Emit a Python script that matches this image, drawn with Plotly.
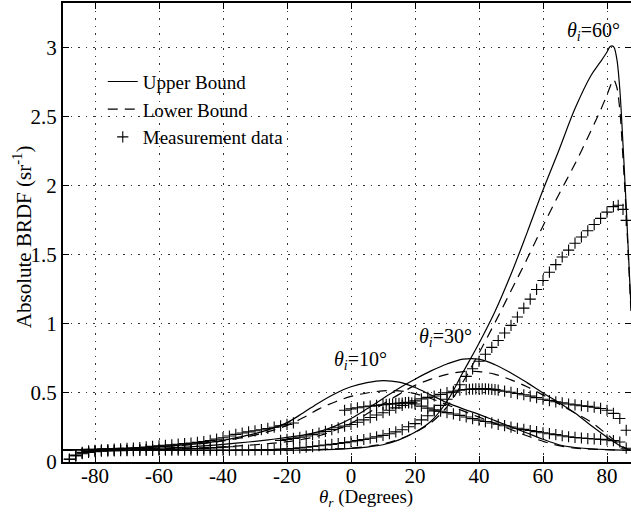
import plotly.graph_objects as go

# ---------------- data ----------------
bound_x = [-90, -85, -80, -75, -70, -65, -60, -55, -50, -45, -40, -35, -30, -25, -20, -15, -10, -5,
           0, 5, 10, 15, 20, 25, 30, 35, 40, 45, 50, 55, 60, 65, 70, 75, 80, 85, 87.5]

upper_10 = [0.085, 0.09, 0.093, 0.097, 0.10, 0.105, 0.111, 0.118, 0.127, 0.14, 0.157, 0.18, 0.205,
            0.24, 0.285, 0.355, 0.43, 0.495, 0.545, 0.575, 0.59, 0.578, 0.54, 0.485, 0.43, 0.385,
            0.345, 0.30, 0.255, 0.21, 0.165, 0.125, 0.105, 0.096, 0.09, 0.086, 0.085]
lower_10 = [0.085, 0.09, 0.093, 0.097, 0.10, 0.105, 0.11, 0.117, 0.125, 0.137, 0.152, 0.172, 0.195,
            0.225, 0.265, 0.32, 0.385, 0.435, 0.475, 0.50, 0.515, 0.515, 0.495, 0.46, 0.415, 0.37,
            0.325, 0.28, 0.235, 0.19, 0.15, 0.118, 0.10, 0.093, 0.089, 0.086, 0.085]
upper_30 = [0.085, 0.088, 0.09, 0.092, 0.095, 0.097, 0.10, 0.105, 0.11, 0.118, 0.127, 0.138, 0.15,
            0.163, 0.178, 0.195, 0.22, 0.26, 0.315, 0.385, 0.46, 0.535, 0.60, 0.66, 0.71, 0.745,
            0.745, 0.705, 0.645, 0.575, 0.50, 0.43, 0.355, 0.265, 0.18, 0.105, 0.085]
lower_30 = [0.085, 0.087, 0.088, 0.09, 0.091, 0.093, 0.095, 0.098, 0.10, 0.105, 0.11, 0.117, 0.125,
            0.135, 0.147, 0.165, 0.19, 0.23, 0.28, 0.35, 0.42, 0.49, 0.555, 0.60, 0.635, 0.655,
            0.655, 0.635, 0.595, 0.545, 0.485, 0.42, 0.355, 0.29, 0.20, 0.11, 0.085]

bound_x_60 = [-90, -80, -70, -60, -50, -40, -30, -20, -10, -5, 0, 5, 10, 15, 20, 25, 30, 35, 40, 45,
              50, 55, 60, 65, 70, 75, 78, 80, 81, 82, 83, 84, 85, 86, 87.5]
upper_60 = [0.09, 0.088, 0.087, 0.086, 0.085, 0.084, 0.084, 0.085, 0.088, 0.092, 0.098, 0.108, 0.125,
            0.16, 0.215, 0.295, 0.44, 0.65, 0.86, 1.09, 1.36, 1.66, 1.97, 2.26, 2.56, 2.80, 2.90,
            2.97, 3.01, 3.01, 2.93, 2.70, 2.30, 1.85, 1.12]
lower_60 = [0.09, 0.088, 0.087, 0.086, 0.085, 0.084, 0.084, 0.085, 0.09, 0.095, 0.10, 0.112, 0.13,
            0.165, 0.215, 0.285, 0.40, 0.58, 0.79, 1.01, 1.24, 1.47, 1.71, 1.94, 2.16, 2.40, 2.55,
            2.66, 2.72, 2.77, 2.72, 2.55, 2.20, 1.80, 1.08]

meas_x_10 = [-88, -86, -84, -82, -80, -78, -76, -74, -72, -70, -68, -66, -64, -62, -60, -58, -56, -54,
             -52, -50, -48, -46, -44, -42, -40, -38, -36, -34, -32, -30, -28, -26, -24, -22, -20, -18,
             -2, 0, 2, 4, 6, 8, 10, 11, 12, 13, 14, 15, 16, 17, 18, 19, 20, 22, 24, 26, 28, 30, 32, 34,
             36, 38, 40, 42, 44, 46, 48, 50, 52, 54, 56, 58, 60, 62, 64, 66, 68, 70, 72, 74, 76, 78,
             80, 82, 84, 86]
meas_10 = [0.02, 0.05, 0.07, 0.08, 0.085, 0.088, 0.09, 0.093, 0.095, 0.098, 0.101, 0.105, 0.109,
           0.113, 0.117, 0.121, 0.125, 0.129, 0.133, 0.137, 0.142, 0.148, 0.156, 0.166, 0.176, 0.188,
           0.2, 0.21, 0.218, 0.226, 0.234, 0.243, 0.252, 0.262, 0.272, 0.283,
           0.375, 0.385, 0.393, 0.40, 0.405, 0.41, 0.415, 0.418, 0.42, 0.422, 0.424, 0.425, 0.427,
           0.43, 0.432, 0.428, 0.42, 0.405, 0.39, 0.378, 0.368, 0.358, 0.348, 0.338, 0.326, 0.314,
           0.303, 0.293, 0.283, 0.273, 0.263, 0.253, 0.244, 0.236, 0.228, 0.22, 0.212, 0.205, 0.198,
           0.19, 0.183, 0.178, 0.174, 0.17, 0.167, 0.164, 0.16, 0.155, 0.145, 0.10]

meas_x_30 = [-88, -86, -84, -82, -80, -78, -76, -74, -72, -70, -68, -66, -64, -62, -60, -58, -56, -54,
             -52, -50, -48, -46, -44, -42, -40, -38,
             -22, -20, -18, -16, -14, -12, -10, -8, -6, -4, -2, 0, 2, 4, 6, 8, 10, 12, 14, 16, 18, 20,
             22, 24, 26, 28, 30, 32, 34, 36, 37, 38, 39, 40, 41, 42, 43, 44, 45, 46, 48, 50, 52, 54,
             56, 58, 60, 62, 64, 66, 68, 70, 72, 74, 76, 78, 80, 82, 84, 86]
meas_30 = [0.02, 0.045, 0.065, 0.075, 0.08, 0.082, 0.083, 0.084, 0.085, 0.086, 0.087, 0.088, 0.089,
           0.09, 0.091, 0.092, 0.093, 0.094, 0.095, 0.096, 0.097, 0.099, 0.101, 0.104, 0.107, 0.11,
           0.157, 0.164, 0.171, 0.179, 0.188, 0.198, 0.21, 0.222, 0.235, 0.248, 0.26, 0.272, 0.288,
           0.305, 0.322, 0.34, 0.357, 0.375, 0.392, 0.41, 0.428, 0.443, 0.457, 0.468, 0.478, 0.49,
           0.502, 0.512, 0.52, 0.525, 0.527, 0.528, 0.529, 0.53, 0.53, 0.53, 0.528, 0.526, 0.524,
           0.52, 0.513, 0.505, 0.496, 0.487, 0.477, 0.466, 0.455, 0.445, 0.436, 0.428, 0.42, 0.414,
           0.408, 0.403, 0.397, 0.388, 0.375, 0.352, 0.315, 0.23]

meas_x_60 = [-88, -86, -84, -82, -80, -78, -76, -74, -72, -70, -68, -66, -64, -62, -60, -58, -56, -54,
             -52, -50, -48, -46, -44, -42, -40, -38, -36, -34, -32, -30, -28, -26, -24, -22, -20, -18,
             -16, -14, -12, -10, -8, -6, -4, -2, 0, 2, 4, 6, 8, 10, 12, 14, 16, 18, 20, 22, 24, 26,
             28, 30, 32, 34, 36, 38, 40, 42, 44, 46, 48, 50, 52, 54, 56, 58, 60, 62, 64, 66, 68, 70,
             72, 74, 76, 78, 80, 82, 83.5, 85, 86]
meas_60 = [0.02, 0.045, 0.06, 0.07, 0.075, 0.078, 0.08, 0.081, 0.082, 0.083, 0.083, 0.084, 0.084,
           0.084, 0.085, 0.085, 0.085, 0.085, 0.085, 0.085, 0.085, 0.085, 0.085, 0.085, 0.085, 0.085,
           0.086, 0.086, 0.087, 0.088, 0.089, 0.09, 0.091, 0.093, 0.095, 0.098, 0.102, 0.107, 0.112,
           0.118, 0.123, 0.128, 0.134, 0.14, 0.147, 0.155, 0.163, 0.172, 0.182, 0.193, 0.205, 0.218,
           0.234, 0.255, 0.278, 0.305, 0.335, 0.37, 0.41, 0.455, 0.505, 0.56, 0.62, 0.675, 0.73,
           0.78, 0.83, 0.88, 0.935, 0.99, 1.05, 1.115, 1.18, 1.25, 1.315, 1.375, 1.43, 1.485, 1.535,
           1.585, 1.63, 1.675, 1.72, 1.765, 1.81, 1.85, 1.86, 1.83, 1.75]

x_tick_vals = [-80, -60, -40, -20, 0, 20, 40, 60, 80]
x_tick_text = ["-80", "-60", "-40", "-20", "0", "20", "40", "60", "80"]
y_tick_vals = [0, 0.5, 1, 1.5, 2, 2.5, 3]
y_tick_text = ["0", "0.5", "1", "1.5", "2", "2.5", "3"]

labels = [("<i>θ</i><sub><i>i</i></sub>=10°", 3.0, 0.735),
          ("<i>θ</i><sub><i>i</i></sub>=30°", 29.5, 0.905),
          ("<i>θ</i><sub><i>i</i></sub>=60°", 75.8, 3.115)]

# ---------------- figure ----------------
FONT = "Liberation Serif, Times New Roman, serif"
fig = go.Figure()

line_solid = dict(color="black", width=1.2)
line_dash = dict(color="black", width=1.2, dash="10px,7px")
marker = dict(symbol="cross-thin", size=8, line=dict(color="black", width=1.1), color="black")

for i, (ux, uy) in enumerate([(bound_x, upper_10), (bound_x, upper_30), (bound_x_60, upper_60)]):
    fig.add_trace(go.Scatter(x=ux, y=uy, mode="lines", line=line_solid, line_shape="spline",
                             name="Upper Bound", legendgroup="u", showlegend=(i == 0)))
for i, (lx, ly) in enumerate([(bound_x, lower_10), (bound_x, lower_30), (bound_x_60, lower_60)]):
    fig.add_trace(go.Scatter(x=lx, y=ly, mode="lines", line=line_dash, line_shape="spline",
                             name="Lower Bound", legendgroup="l", showlegend=(i == 0)))
for i, (mx, my) in enumerate([(meas_x_10, meas_10), (meas_x_30, meas_30), (meas_x_60, meas_60)]):
    fig.add_trace(go.Scatter(x=mx, y=my, mode="markers", marker=marker,
                             name="Measurement data", legendgroup="m", showlegend=(i == 0)))

# invisible trace for right-side tick axis
fig.add_trace(go.Scatter(x=[0], y=[0], yaxis="y2", mode="markers", marker=dict(opacity=0),
                         showlegend=False, hoverinfo="skip"))

for txt, lx, ly in labels:
    fig.add_annotation(x=lx, y=ly, text=txt, showarrow=False, xanchor="center", yanchor="middle",
                       font=dict(family=FONT, size=20, color="black"))

fig.add_annotation(xref="paper", yref="paper", x=0.533, y=-0.078, xanchor="center",
                   yanchor="middle", text="<i>θ</i><sub><i>r</i></sub> (Degrees)", showarrow=False,
                   font=dict(family=FONT, size=19, color="black"))
fig.add_annotation(xref="paper", yref="paper", x=-0.072, y=0.49, xanchor="center",
                   yanchor="middle", textangle=-90,
                   text="Absolute BRDF (sr<sup>-1</sup>)", showarrow=False,
                   font=dict(family=FONT, size=21, color="black"))

grid = dict(showgrid=True, gridcolor="#333333", gridwidth=1, griddash="1.5px,6px")

fig.update_layout(
    width=631, height=514,
    margin=dict(l=63, r=0, t=3, b=52),
    paper_bgcolor="white", plot_bgcolor="white",
    font=dict(family=FONT, size=21, color="black"),
    xaxis=dict(range=[-90, 87.5], tickvals=x_tick_vals, ticktext=x_tick_text,
               ticks="inside", ticklen=6, tickwidth=1, tickcolor="black",
               showline=True, linewidth=2.3, linecolor="black", mirror="ticks",
               ticklabelstandoff=-6,
               zeroline=False, tickfont=dict(family=FONT, size=21), **grid),
    yaxis=dict(range=[0, 3.325], tickvals=y_tick_vals, ticktext=y_tick_text,
               ticks="inside", ticklen=6, tickwidth=1, tickcolor="black",
               showline=True, linewidth=2, linecolor="black", mirror=False,
               zeroline=False, tickfont=dict(family=FONT, size=21), **grid),
    yaxis2=dict(range=[0, 3.325], tickvals=y_tick_vals, overlaying="y", side="right",
                ticks="inside", ticklen=6, tickwidth=1, tickcolor="black",
                showticklabels=False, showline=False, showgrid=False, zeroline=False),
    legend=dict(x=0.07, y=0.87, xanchor="left", yanchor="top", bgcolor="rgba(0,0,0,0)",
                borderwidth=0, font=dict(family=FONT, size=19), tracegroupgap=0),
    showlegend=True,
)

fig.write_html("out.html")
